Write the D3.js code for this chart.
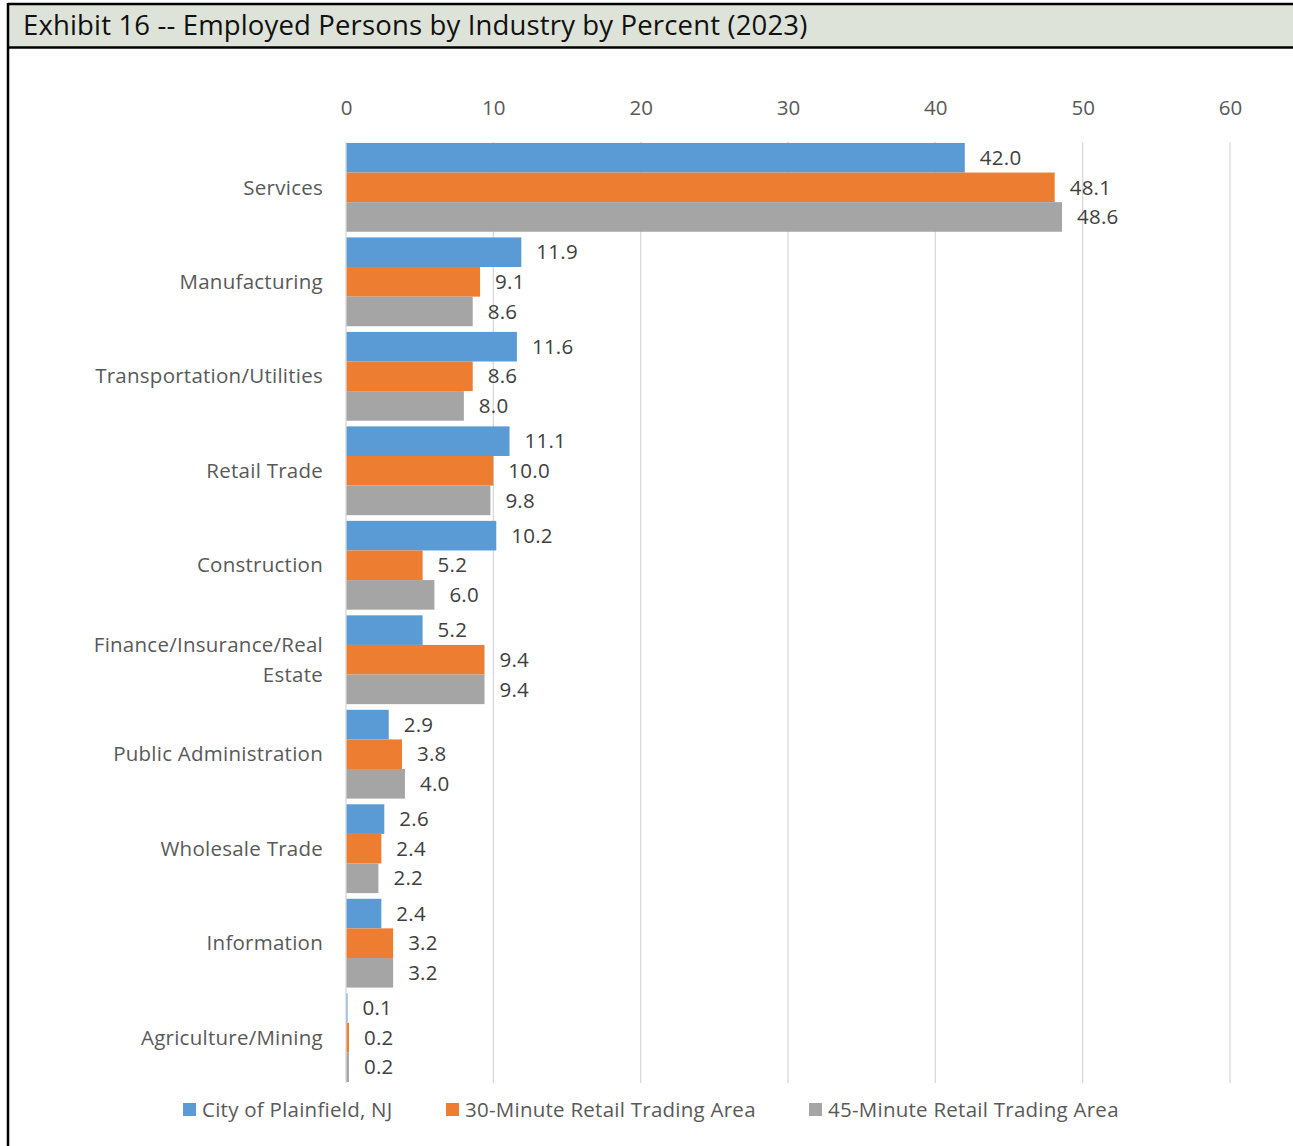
<!DOCTYPE html>
<html>
<head>
<meta charset="utf-8">
<script src="https://cdn.jsdelivr.net/npm/d3@7"></script>
<style>
  html, body { margin: 0; padding: 0; background: #fff; }
  svg { display: block; font-family: "Open Sans", Lato, "Noto Sans", sans-serif; }
  .lbl { letter-spacing: 0.25px; }
</style>
</head>
<body>
<svg id="chart" width="1293" height="1146"></svg>
<script>
// Industries, top to bottom
const categories = [
  ["Services"],
  ["Manufacturing"],
  ["Transportation/Utilities"],
  ["Retail Trade"],
  ["Construction"],
  ["Finance/Insurance/Real", "Estate"],
  ["Public Administration"],
  ["Wholesale Trade"],
  ["Information"],
  ["Agriculture/Mining"]
];
const seriesNames = ["City of Plainfield, NJ", "30-Minute Retail Trading Area", "45-Minute Retail Trading Area"];
const plainfield = [42.0, 11.9, 11.6, 11.1, 10.2, 5.2, 2.9, 2.6, 2.4, 0.1];
const minute30   = [48.1, 9.1, 8.6, 10.0, 5.2, 9.4, 3.8, 2.4, 3.2, 0.2];
const minute45   = [48.6, 8.6, 8.0, 9.8, 6.0, 9.4, 4.0, 2.2, 3.2, 0.2];
const tickValues = [0, 10, 20, 30, 40, 50, 60];
const colors = ["#5b9bd5", "#ed7d31", "#a5a5a5"];

const series = [plainfield, minute30, minute45];
const svg = d3.select("#chart");
const FS = 20.5;

// Frame and title bar
svg.append("rect").attr("x", 8).attr("y", 4).attr("width", 1290).attr("height", 43)
  .attr("fill", "#dde3d8");
svg.append("line").attr("x1", 8).attr("x2", 1293).attr("y1", 4).attr("y2", 4)
  .attr("stroke", "#000").attr("stroke-width", 2.5);
svg.append("line").attr("x1", 8).attr("x2", 1293).attr("y1", 47.5).attr("y2", 47.5)
  .attr("stroke", "#000").attr("stroke-width", 2.5);
svg.append("line").attr("x1", 8).attr("x2", 8).attr("y1", 3).attr("y2", 1146)
  .attr("stroke", "#000").attr("stroke-width", 2.5);
svg.append("text").attr("x", 23).attr("y", 35)
  .attr("font-size", 27.5).attr("fill", "#111").attr("letter-spacing", "0.15px")
  .text("Exhibit 16 -- Employed Persons by Industry by Percent (2023)");

// Scales
const x = d3.scaleLinear().domain([0, 60]).range([346, 1230]);
const y = d3.scaleBand().domain(d3.range(categories.length)).range([142, 1083]).paddingInner(0.06).paddingOuter(0.01);
const inner = d3.scaleBand().domain(d3.range(series.length)).range([0, y.bandwidth()]);

// Gridlines
svg.append("g").selectAll("line").data(tickValues.slice(1)).join("line")
  .attr("x1", d => x(d)).attr("x2", d => x(d))
  .attr("y1", 142).attr("y2", 1083)
  .attr("stroke", "#d9d9d9").attr("stroke-width", 1.3);

// Top tick labels
const axis = svg.append("g").attr("transform", "translate(0,108)")
  .call(d3.axisTop(x).tickValues(tickValues).tickSize(0).tickPadding(0));
axis.select(".domain").remove();
axis.selectAll("text").attr("font-size", FS).attr("fill", "#595959")
  .attr("font-family", "'Open Sans', Lato, sans-serif").attr("dy", "0.35em");

// Bars
categories.forEach((cat, i) => {
  const g = svg.append("g").attr("transform", `translate(0,${y(i)})`);
  series.forEach((s, k) => {
    g.append("rect")
      .attr("x", x(0)).attr("y", inner(k))
      .attr("width", x(s[i]) - x(0)).attr("height", inner.bandwidth())
      .attr("fill", colors[k]);
    g.append("text").attr("class", "lbl")
      .attr("x", x(s[i]) + 15).attr("y", inner(k) + inner.bandwidth() / 2)
      .attr("dy", "0.35em").attr("font-size", FS).attr("fill", "#404040")
      .text(s[i].toFixed(1));
  });
  // Category label
  const lbl = g.append("text").attr("class", "lbl").attr("x", 323).attr("text-anchor", "end")
    .attr("font-size", FS).attr("fill", "#595959");
  const lh = 29.5;
  const y0 = y.bandwidth() / 2 - (cat.length - 1) * lh / 2;
  cat.forEach((line, j) => {
    lbl.append("tspan").attr("x", 323).attr("y", y0 + j * lh).attr("dy", "0.35em").text(line);
  });
});

// Value axis line on the left
svg.append("line").attr("x1", x(0)).attr("x2", x(0)).attr("y1", 142).attr("y2", 1083)
  .attr("stroke", "#d9d9d9").attr("stroke-width", 1.3);

// Legend
const legendX = [183, 446, 809];
const legend = svg.append("g").selectAll("g").data(seriesNames).join("g")
  .attr("transform", (d, i) => `translate(${legendX[i]},1110)`);
legend.append("rect").attr("x", 0).attr("y", -7).attr("width", 13).attr("height", 13)
  .attr("fill", (d, i) => colors[i]);
legend.append("text").attr("class", "lbl").attr("x", 19).attr("dy", "0.35em").attr("font-size", FS)
  .attr("fill", "#595959").text(d => d);
</script>
</body>
</html>
